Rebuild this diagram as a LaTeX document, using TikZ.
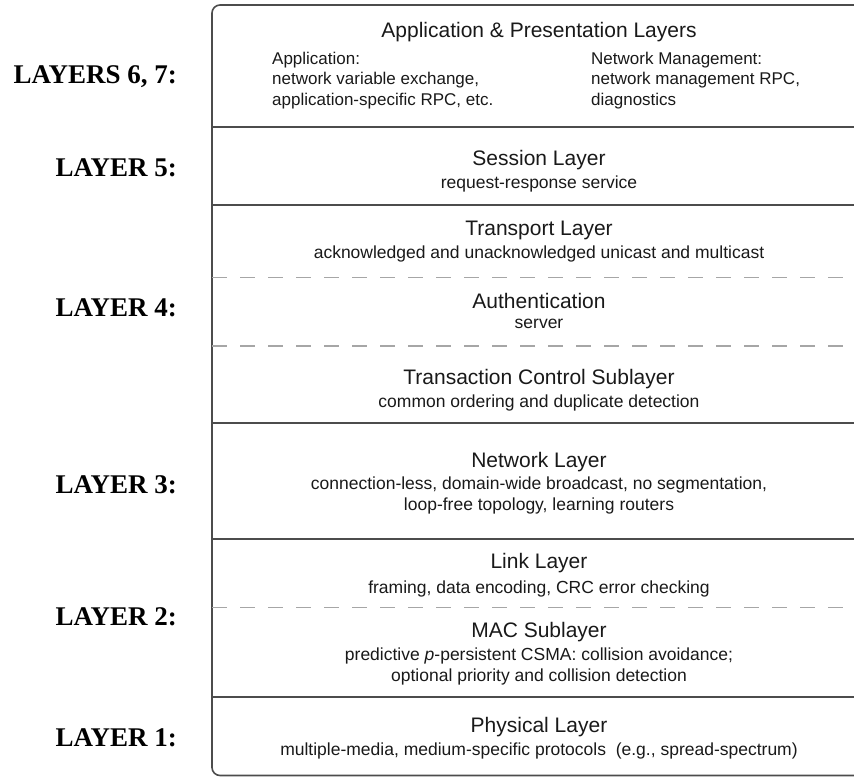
\documentclass[tikz,border=0pt]{standalone}
\usepackage{fontspec}
\setmainfont{Liberation Sans}
\newfontfamily\sidefont{Liberation Serif}
\usetikzlibrary{positioning}
\tikzset{
  laytitle/.style={font=\fontsize{21}{24}\selectfont, text=black!90},
  laydesc/.style={font=\fontsize{17.5}{21}\selectfont, align=center, text=black!90},
  coltext/.style={font=\fontsize{17}{20.5}\selectfont, align=left, anchor=west, text=black!90},
  sidelabel/.style={font=\sidefont\bfseries\fontsize{27}{30}\selectfont, anchor=east},
  solidsep/.style={draw=black!70, line width=1.6pt},
  dashsep/.style={draw=black!35, line width=1.2pt, dash pattern=on 15pt off 13pt},
}
\begin{document}
\begin{tikzpicture}
		[x=1pt, y=-1pt, every node/.style={inner sep=1pt}]
		\useasboundingbox (0,0) rectangle (854,777);
		\clip (0,0) rectangle (854,777);
		
		% outer frame, open to the right
		\draw[solidsep, rounded corners=8pt] (880,5) -- (212,5) -- (212,775.5) -- (880,775.5);
		
		% layer borders
		\draw[solidsep] (212,127) -- (880,127);
		\draw[solidsep] (212,205) -- (880,205);
		\draw[solidsep] (212,423) -- (880,423);
		\draw[solidsep] (212,539) -- (880,539);
		\draw[solidsep] (212,697) -- (880,697);
		
		% sublayer borders
		\draw[dashsep] (212,277.5) -- (880,277.5);
		\draw[dashsep] (212,346) -- (880,346);
		\draw[dashsep] (212,607.5) -- (880,607.5);
		
		% layers 6, 7
		\node[laytitle] (apptitle) at (539,32) {Application \& Presentation Layers};
		\node[coltext] (appcol) at (271,80.5) {Application:\\network variable exchange,\\application-specific RPC, etc.};
		\node[coltext] (mgmtcol) at (590,80.5) {Network Management:\\network management RPC,\\diagnostics};
		
		% layer 5
		\node[laytitle] (session) at (539,160) {Session Layer};
		\node[laydesc] (sessiondesc) at (539,184) {request-response service};
		
		% layer 4
		\node[laytitle] (transport) at (539,230) {Transport Layer};
		\node[laydesc] (transportdesc) at (539,254) {acknowledged and unacknowledged unicast and multicast};
		\node[laytitle] (auth) at (539,301) {Authentication};
		\node[laydesc] (authdesc) at (539,324) {server};
		\node[laytitle] (tcs) at (539,379) {Transaction Control Sublayer};
		\node[laydesc] (tcsdesc) at (539,403) {common ordering and duplicate detection};
		
		% layer 3
		\node[laytitle] (network) at (539,462) {Network Layer};
		\node[laydesc] (networkdesc) at (539,495) {connection-less, domain-wide broadcast, no segmentation,\\loop-free topology, learning routers};
		
		% layer 2
		\node[laytitle] (link) at (539,563) {Link Layer};
		\node[laydesc] (linkdesc) at (539,588.5) {framing, data encoding, CRC error checking};
		\node[laytitle] (mac) at (539,632) {MAC Sublayer};
		\node[laydesc] (macdesc) at (539,666) {predictive \textit{p}-persistent CSMA: collision avoidance;\\optional priority and collision detection};
		
		% layer 1
		\node[laytitle] (phys) at (539,727.5) {Physical Layer};
		\node[laydesc] (physdesc) at (539,750.5) {multiple-media, medium-specific protocols\ \ (e.g., spread-spectrum)};
		
		% side labels
		\node[sidelabel] (l67) at (178,77) {LAYERS 6, 7:};
		\node[sidelabel] (l5) at (178,168) {LAYER 5:};
		\node[sidelabel] (l4) at (178,308) {LAYER 4:};
		\node[sidelabel] (l3) at (178,485) {LAYER 3:};
		\node[sidelabel] (l2) at (178,617) {LAYER 2:};
		\node[sidelabel] (l1) at (178,738) {LAYER 1:};
		\end{tikzpicture}
\end{document}
